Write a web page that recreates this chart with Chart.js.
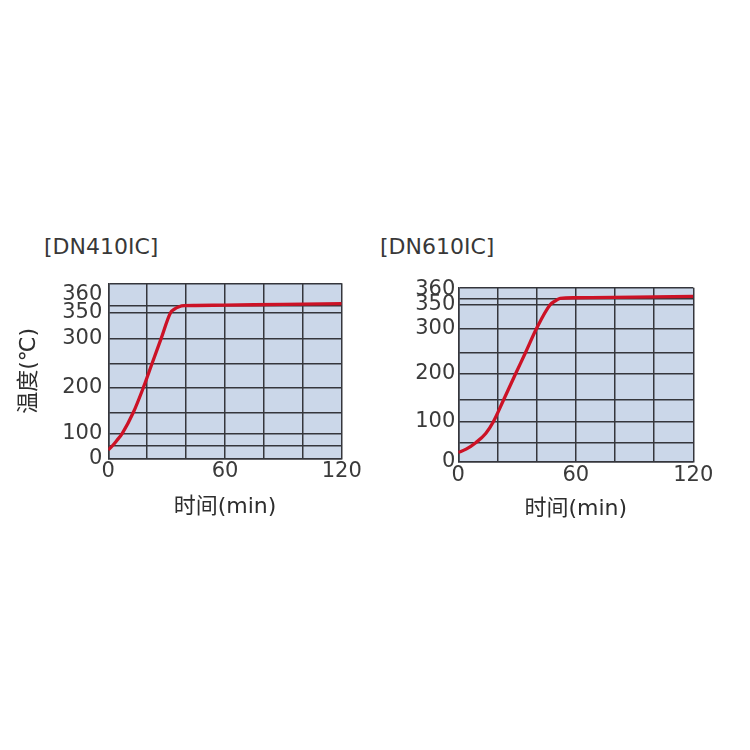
<!DOCTYPE html>
<html><head><meta charset="utf-8">
<script src="https://cdn.jsdelivr.net/npm/chart.js@4/dist/chart.umd.min.js"></script>
<style>
html,body{margin:0;padding:0;background:#fff;}
body{width:750px;height:750px;position:relative;overflow:hidden;font-family:'DejaVu Sans','Noto Sans CJK SC',sans-serif;}
.ttl{position:absolute;top:236px;font-size:22px;font-weight:normal;line-height:1;color:#383838;white-space:nowrap;}
.box{position:absolute;top:200px;width:375px;height:340px;}
</style></head><body>
<div class="ttl" id="t410" style="left:44px"></div>
<div class="ttl" id="t610" style="left:380px"></div>
<div class="box" style="left:0"><canvas id="c410" width="375" height="340"></canvas></div>
<div class="box" style="left:375px"><canvas id="c610" width="375" height="340"></canvas></div>
<script>
// ---- data ----
const panelTitles = ['[DN410IC]', '[DN610IC]'];
const xTitle = '时间(min)';
const yTitle = '温度(℃)';
const xGridValues = [0, 20, 40, 60, 80, 100, 120];
const xLabelValues = [0, 60, 120];
const yGridValues = [0, 50, 100, 150, 200, 250, 300, 350, 355];
const yLabelValues = [0, 100, 200, 300, 350, 360];

const time410 = [0, 2, 4.2, 7.2, 12.9, 18, 22.4, 27.2, 32, 33.8, 36.4, 39, 45, 60, 90, 120];
const temp410 = [34, 50, 70, 100, 150, 200, 250, 300, 350, 352.4, 354.3, 355, 355.1, 355.3, 355.6, 356];

const time610 = [0, 4, 8.9, 14, 17.9, 23.1, 29.2, 34.4, 40, 46.8, 49.4, 52, 59.6, 90, 120];
const temp610 = [24, 33, 50, 72, 100, 150, 200, 250, 300, 350, 353.3, 355.4, 355.7, 356, 356.5];

// ---- the printed (non-linear) temperature axis of each panel ----
const yAxisMaps = {
  c410: { values: [0, 50, 100, 150, 200, 250, 300, 350, 355, 360, 366],
          fracs:  [0, 0.0703, 0.1429, 0.2629, 0.4034, 0.5389, 0.6857, 0.832, 0.872, 0.9331, 1] },
  c610: { values: [0, 50, 100, 150, 200, 250, 300, 350, 355, 360, 362],
          fracs:  [0, 0.1092, 0.2299, 0.3546, 0.504, 0.6287, 0.7667, 0.9006, 0.935, 0.9868, 1] }
};

class PiecewiseScale extends Chart.LinearScale {
  _m() { return yAxisMaps[this.chart.canvas.id]; }
  getPixelForValue(value) {
    if (value === null || value === undefined || isNaN(value)) return NaN;
    const m = this._m(), v = m.values, f = m.fracs;
    let i = 1;
    while (i < v.length - 1 && value > v[i]) i++;
    const t = (value - v[i-1]) / (v[i] - v[i-1]);
    return this.getPixelForDecimal(f[i-1] + t * (f[i] - f[i-1]));
  }
  getValueForPixel(pixel) {
    const d = this.getDecimalForPixel(pixel);
    const m = this._m(), v = m.values, f = m.fracs;
    let i = 1;
    while (i < f.length - 1 && d > f[i]) i++;
    const t = (d - f[i-1]) / (f[i] - f[i-1]);
    return v[i-1] + t * (v[i] - v[i-1]);
  }
}
PiecewiseScale.id = 'piecewise';
Chart.register(PiecewiseScale);

const FONT = "'DejaVu Sans','Noto Sans CJK SC',sans-serif";
const gridColor = '#35363c';
const bgColor = '#cbd7e9';
const lineColor = '#cc1226';
const textColor = '#3a3a3a';

const plotBg = {
  id: 'plotBg',
  beforeDraw(chart) {
    const {ctx, chartArea: a} = chart;
    ctx.save();
    ctx.fillStyle = bgColor;
    ctx.fillRect(a.left, a.top, a.right - a.left, a.bottom - a.top);
    ctx.restore();
  }
};

function makeChart(id, times, temps, cfg) {
  const ymax = yAxisMaps[id].values[yAxisMaps[id].values.length - 1];
  const yTicks = Array.from(new Set(yGridValues.concat(yLabelValues, [ymax]))).sort((a, b) => a - b);
  const gridSet = yGridValues.concat([ymax]);
  return new Chart(document.getElementById(id), {
    type: 'line',
    data: {
      datasets: [{
        data: times.map((t, i) => ({x: t, y: temps[i]})),
        borderColor: lineColor,
        borderWidth: 3.3,
        pointRadius: 0,
        cubicInterpolationMode: 'monotone',
        fill: false
      }]
    },
    options: {
      responsive: false,
      animation: false,
      events: [],
      layout: { padding: cfg.padding },
      plugins: { legend: { display: false }, tooltip: { enabled: false } },
      scales: {
        x: {
          type: 'linear', min: 0, max: 120,
          afterBuildTicks: s => { s.ticks = xGridValues.map(v => ({value: v})); },
          afterFit: s => { s.height = cfg.xHeight; },
          ticks: {
            autoSkip: false, maxRotation: 0, padding: 1, color: textColor,
            font: { family: FONT, size: 21 },
            callback: v => xLabelValues.includes(v) ? String(v) : ''
          },
          grid: { drawTicks: false, color: gridColor, lineWidth: 1.5 },
          border: { display: true, color: gridColor, width: 1.5 },
          title: {
            display: true, text: xTitle, color: '#2e2e2e',
            font: { family: FONT, size: 22 },
            padding: { top: 0, bottom: cfg.xTitlePad }
          }
        },
        y: {
          type: 'piecewise', min: 0, max: ymax,
          afterBuildTicks: s => { s.ticks = yTicks.map(v => ({value: v})); },
          afterFit: s => { s.width = cfg.yWidth; },
          ticks: {
            autoSkip: false, padding: cfg.yTickPad, color: textColor,
            font: { family: FONT, size: 21 },
            callback: v => yLabelValues.includes(v) ? String(v) : ''
          },
          grid: {
            drawTicks: false, lineWidth: 1.5,
            color: c => (c.tick && gridSet.includes(c.tick.value)) ? gridColor : 'rgba(0,0,0,0)'
          },
          border: { display: true, color: gridColor, width: 1.5 },
          title: {
            display: cfg.showYTitle, text: yTitle, color: '#2e2e2e',
            font: { family: FONT, size: 22 },
            padding: { top: 15.8, bottom: 0 }
          }
        }
      }
    },
    plugins: [plotBg]
  });
}

document.getElementById('t410').textContent = panelTitles[0];
document.getElementById('t610').textContent = panelTitles[1];

makeChart('c410', time410, temp410, {
  padding: { top: 83.3, right: 33.3, left: 0, bottom: 0 },
  yWidth: 108.3, xHeight: 81.7, yTickPad: 6, xTitlePad: 20, showYTitle: true
});
makeChart('c610', time610, temp610, {
  padding: { top: 87.7, right: 56.7, left: 0, bottom: 0 },
  yWidth: 83.3, xHeight: 78.3, yTickPad: 3, xTitlePad: 18, showYTitle: false
});
</script>
</body></html>
